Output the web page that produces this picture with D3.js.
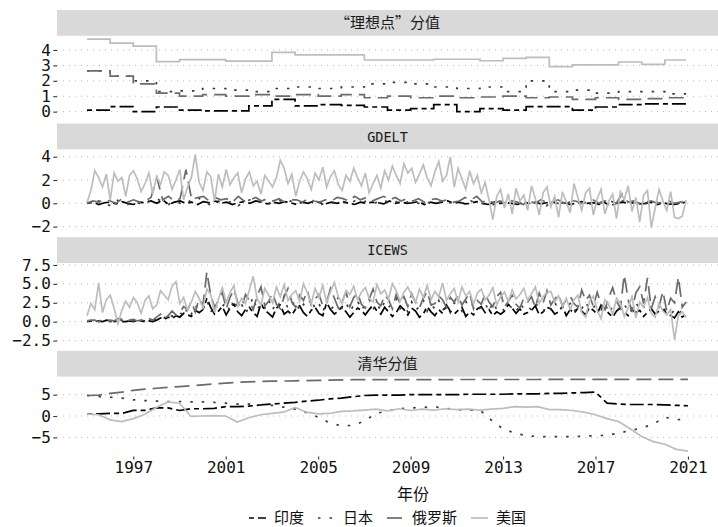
<!DOCTYPE html>
<html>
<head>
<meta charset="utf-8">
<script src="https://cdn.jsdelivr.net/npm/d3@7"></script>
<style>
    body { margin: 0; background: #ffffff; }
    svg { display: block; }
</style>
</head>
<body>
<svg id="chart" width="718" height="527"></svg>
<script>
"use strict";

var Countries = ["印度", "日本", "俄罗斯", "美国"];
var PanelTitles = ["“理想点”分值", "GDELT", "ICEWS", "清华分值"];
var XTicks = [1997, 2001, 2005, 2009, 2013, 2017, 2021];
var YTicks = [[0, 1, 2, 3, 4], [-2, 0, 2, 4], [-2.5, 0, 2.5, 5, 7.5], [-5, 0, 5]];
var XTitle = "年份";

// "理想点" scores, one value per year 1995..2020
var idealIndia = [0.1, 0.33, 0.0, 0.3, 0.1, 0.05, 0.05, 0.37, 0.8, 0.37, 0.45, 0.4, 0.3, 0.1, 0.2, 0.45, 0.0, 0.2, 0.1, 0.33, 0.33, 0.1, 0.3, 0.45, 0.5, 0.5];
var idealJapan = [2.65, 2.3, 2.0, 1.3, 1.35, 1.5, 1.4, 1.3, 1.5, 1.6, 1.5, 1.6, 1.8, 1.9, 1.8, 1.6, 1.5, 1.6, 1.3, 2.0, 1.3, 1.4, 1.2, 1.3, 1.3, 1.15];
var idealRussia = [2.65, 2.3, 1.8, 1.2, 1.0, 1.1, 1.0, 1.1, 1.0, 1.1, 1.0, 1.1, 0.9, 1.0, 0.9, 1.0, 0.9, 0.95, 1.0, 0.9, 0.95, 0.8, 0.9, 0.8, 0.85, 0.9];
var idealUSA = [4.7, 4.45, 4.25, 3.25, 3.38, 3.38, 3.28, 3.28, 3.85, 3.68, 3.68, 3.68, 3.35, 3.35, 3.35, 3.4, 3.4, 3.3, 3.45, 3.52, 2.92, 3.03, 3.03, 3.22, 3.07, 3.35];

// GDELT, quarterly for India / Japan / Russia, every two months for the US
var gdeltIndia = [
    0.0, 0.1, -0.1, 0.05, 0.1, -0.05, 0.15, 0.0, -0.1, 0.1, 0.05, 0.2, 0.0, 0.3, -0.1, 0.1,
    0.2, 0.0, 0.1, -0.1, 0.15, 0.05, 0.2, 0.0, 0.1, -0.1, 0.05, 0.15, 0.0, 0.2, 0.1, -0.05,
    0.1, 0.0, 0.15, 0.05, -0.1, 0.1, 0.0, 0.2, 0.05, -0.05, 0.1, 0.0, 0.15, 0.0, -0.1, 0.1,
    0.0, 0.1, 0.05, -0.05, 0.2, 0.0, 0.1, 0.0, 0.05, 0.15, -0.1, 0.1, 0.0, 0.1, 0.2, 0.0,
    0.1, -0.05, 0.0, 0.15, 0.0, -0.1, 0.1, 0.0, 0.05, 0.0, -0.1, 0.1, 0.0, 0.1, -0.05, 0.05,
    0.1, 0.0, 0.05, -0.1, 0.0, 0.15, 0.0, 0.05, -0.1, 0.05, -0.2, 0.0, 0.1, 0.0, 0.05, -0.05,
    0.0, 0.1, -0.1, 0.05, -0.05, -0.1, 0.0, 0.1
];
var gdeltJapan = [
    0.1, -0.1, 0.2, 0.0, -0.2, 0.3, 0.1, -0.1, 0.2, 0.0, 0.3, 0.1, 0.4, 0.1, -0.1, 0.2,
    0.0, 0.3, 0.1, 0.5, 0.2, -0.1, 0.3, 0.1, 0.0, 0.2, -0.2, 0.1, 0.3, 0.0, 0.2, -0.1,
    0.1, 0.3, 0.0, 0.2, -0.1, 0.1, 0.2, 0.0, -0.2, 0.1, 0.0, 0.2, 0.1, -0.1, 0.2, 0.0,
    0.2, 0.0, 0.1, 0.3, 0.0, 0.2, -0.1, 0.1, 0.1, 0.0, 0.2, 0.0, -0.1, 0.2, 0.0, 0.1,
    0.1, -0.1, 0.2, 0.0, 0.0, -0.2, -0.1, 0.1, -0.2, 0.0, -0.1, 0.1, 0.0, -0.1, 0.1, -0.2,
    0.1, 0.0, -0.1, 0.1, -0.1, 0.1, 0.0, -0.1, 0.1, 0.0, 0.2, 0.0, 0.2, 0.1, 0.0, 0.1,
    0.0, -0.1, 0.1, 0.0, -0.1, 0.1, 0.0, 0.2
];
var gdeltRussia = [
    0.0, 0.2, 0.1, 0.3, 0.2, 0.0, 0.4, 0.1, 0.3, 0.1, 0.2, 0.5, 2.2, 0.3, 0.6, 0.2,
    0.4, 2.9, 0.3, 0.5, 0.6, 0.2, 0.5, 0.3, 0.4, 0.1, 0.6, 0.2, 0.3, 0.5, 0.2, 0.4,
    0.2, 0.4, 0.1, 0.3, 0.3, 0.1, 0.4, 0.2, 0.1, 0.3, 0.2, 0.5, 0.4, 0.2, 0.6, 0.3,
    0.5, 0.2, 0.4, 0.6, 0.3, 0.5, 0.2, 0.4, 0.2, 0.4, 0.1, 0.3, 0.4, 0.2, 0.3, 0.1,
    0.2, 0.5, 0.3, 0.6, 0.1, 0.3, 0.0, 0.2, 0.0, 0.2, 0.1, -0.1, 0.2, 0.0, 0.3, 0.1,
    0.1, 0.3, 0.0, 0.2, 0.2, 0.0, 0.1, 0.3, 0.0, 0.2, 0.1, 0.0, 0.8, 0.1, 0.2, 0.0,
    0.1, 0.2, 0.0, 0.1, 0.2, 0.0, 0.1, 0.2
];
var gdeltUSA = [
    0.1, 1.1, 2.8, 2.2, 1.4, 2.5, 0.3, 2.6, 1.9, 2.2, 0.6, 2.4,
    2.8, 2.1, 1.0, 1.7, 2.6, 0.8, 2.3, 1.6, 2.7, 2.4, 1.2, 2.0,
    2.9, 0.3, 1.4, 2.2, 4.2, 1.8, 1.1, 2.7, 2.3, 0.2, 2.5, 1.4,
    2.9, 1.6, 2.2, 2.6, 0.9, 2.1, 2.7, 1.5, 1.9, 0.8, 2.4, 1.9,
    1.4, 2.2, 3.7, 3.0, 1.7, 2.5, 0.6, 1.9, 2.7, 2.1, 1.2, 2.6,
    2.0, 3.1, 1.4, 2.3, 2.8, 1.6, 1.1, 2.4, 1.9, 3.0, 2.2, 1.5,
    2.6, 0.9, 1.7, 2.4, 1.3, 2.8, 2.0, 3.2, 2.4, 1.7, 3.4, 2.6,
    3.0, 1.8, 2.5, 3.3, 2.2, 1.5, 2.7, 3.6, 1.9, 2.4, 4.0, 1.4,
    3.0, 2.1, 1.2, 2.8, 1.7, 2.4, 0.9, 1.8, 0.3, -1.4, 0.6, 1.2,
    -0.4, 0.8, -0.9, 1.3, 0.2, 0.7, -0.6, 1.5, 0.4, -1.0, 0.9, 1.4,
    -0.3, 0.6, -1.2, 1.0, 0.1, -0.8, 1.7, 0.5, -0.6, 0.9, 1.3, -1.0,
    0.4, 1.2, -0.9, 0.2, 0.8, -1.3, 1.0, 0.3, 1.5, -0.7, 0.5, -1.6,
    0.7, 1.1, -2.1, -0.4, 1.2, 0.2, -0.6, 1.0, -1.2, -1.3, -1.1, 0.3
];

// ICEWS, every two months
var icewsIndia = [
    0.0, 0.1, 0.0, 0.1, 0.0, 0.2, 0.1, 0.0, 0.1, 0.0, 0.0, 0.1,
    0.0, 0.2, 0.1, 0.0, 0.1, 0.0, 0.2, 0.5, 0.3, 0.6, 0.4, 0.8,
    0.6, 1.1, 0.9, 0.7, 1.5, 1.2, 1.6, 3.1, 1.9, 1.0, 1.4, 2.0,
    0.9, 1.8, 2.3, 1.3, 0.8, 1.6, 1.9, 1.2, 0.7, 2.4, 1.5, 1.1,
    0.6, 1.8, 2.2, 1.0, 1.4, 0.9, 1.7, 2.1, 1.2, 0.7, 1.5, 1.9,
    1.1, 0.8, 2.5, 1.6, 1.0, 1.4, 2.0, 1.3, 0.6, 1.2, 1.8, 1.5,
    0.9, 1.6, 2.2, 1.4, 1.0, 1.9, 1.3, 0.7, 1.2, 2.1, 1.6, 0.9,
    1.8, 1.4, 0.6, 1.0, 2.0, 1.3, 0.8, 1.6, 1.1, 2.2, 1.4, 1.0,
    1.5, 1.9, 0.7, 1.3, 0.9, 1.7, 2.0, 1.2, 1.6, 0.8, 1.3, 1.0,
    1.4, 2.3, 1.8, 1.1, 1.7, 1.0, 1.2, 1.5, 2.1, 0.9, 1.3, 1.9,
    1.7, 1.0, 1.3, 2.0, 0.8, 1.6, 1.1, 1.8, 1.4, 0.9, 1.9, 1.5,
    1.0, 2.2, 1.7, 1.1, 0.6, 1.4, 1.9, 1.3, 0.8, 1.6, 1.2, 1.5,
    0.7, 1.2, 1.7, 1.0, 1.4, 1.6, 1.1, 0.8, 0.5, 1.3, 0.6, 1.0
];
var icewsJapan = [
    0.1, 0.0, 0.2, 0.0, 0.1, 0.0, 0.0, 0.1, 0.0, 0.2, 0.1, 0.0,
    0.1, 0.0, 0.2, 0.1, 0.3, 0.2, 0.4, 0.8, 0.5, 1.2, 0.7, 1.0,
    1.3, 0.6, 1.9, 1.0, 2.2, 1.4, 1.8, 2.9, 1.2, 2.4, 1.5, 2.0,
    2.6, 1.3, 3.0, 1.7, 2.3, 1.1, 2.0, 3.3, 1.4, 2.5, 1.8, 2.9,
    1.5, 2.7, 2.1, 3.4, 1.6, 2.2, 2.8, 1.4, 2.3, 1.9, 3.1, 1.7,
    2.4, 1.2, 2.9, 1.6, 2.1, 3.2, 1.8, 2.6, 1.3, 2.2, 2.8, 1.5,
    2.3, 3.0, 1.6, 2.5, 1.4, 2.7, 1.9, 2.4, 3.1, 1.7, 2.2, 1.3,
    2.6, 1.5, 2.0, 2.9, 1.4, 2.3, 1.7, 2.8, 1.5, 2.1, 1.2, 2.5,
    2.2, 1.4, 2.7, 1.8, 2.4, 1.6, 1.9, 2.5, 1.3, 2.6, 1.6, 2.0,
    1.4, 2.2, 1.8, 1.2, 2.5, 1.7, 2.1, 1.5, 2.4, 1.9, 1.3, 2.2,
    1.6, 2.6, 1.4, 2.0, 1.8, 2.4, 1.3, 2.1, 1.7, 2.7, 1.5, 1.9,
    2.3, 1.6, 2.5, 1.1, 2.0, 1.4, 1.8, 2.4, 1.2, 1.9, 2.6, 1.5,
    2.0, 1.3, 2.2, 1.6, 1.1, 1.8, 1.4, 0.9, 1.6, 1.0, 1.5, 1.2
];
var icewsRussia = [
    0.1, 0.2, 0.2, 0.0, 0.3, 0.1, 0.2, 0.1, 0.4, 0.3, 0.0, 0.2,
    0.3, 0.1, 0.2, 0.5, 0.4, 0.2, 0.6, 1.0, 0.4, 0.8, 1.4, 0.9,
    1.2, 2.0, 1.6, 2.6, 1.3, 3.0, 2.2, 6.6, 3.5, 1.9, 2.8, 3.9,
    1.7, 3.2, 4.3, 2.5, 1.9, 3.6, 2.8, 1.6, 3.4, 4.6, 2.1, 2.7,
    3.8, 2.3, 1.7, 3.3, 4.4, 2.6, 1.9, 3.5, 2.8, 4.1, 2.2, 3.0,
    3.6, 2.1, 2.6, 4.4, 3.1, 1.8, 2.7, 3.9, 2.0, 3.2, 3.8, 2.3,
    1.8, 3.0, 4.3, 2.6, 2.1, 3.5, 2.9, 1.7, 3.6, 2.4, 3.3, 2.0,
    3.7, 2.5, 1.8, 3.1, 4.0, 2.2, 2.4, 3.4, 2.9, 1.9, 3.2, 2.6,
    3.5, 2.2, 3.0, 3.8, 1.7, 2.8, 2.3, 3.7, 2.6, 2.0, 3.3, 3.9,
    1.9, 2.7, 3.5, 2.3, 1.8, 3.1, 2.6, 3.3, 1.9, 3.8, 2.5, 4.1,
    2.2, 3.0, 3.6, 2.1, 2.9, 3.4, 2.4, 1.9, 4.2, 2.8, 3.5, 2.0,
    3.9, 2.3, 1.6, 3.2, 4.5, 2.7, 1.8, 6.2, 2.9, 1.5, 3.8, 4.6,
    2.4, 5.8, 1.7, 3.3, 2.0, 4.0, 1.4, 3.1, 2.5, 5.9, 1.9, 2.6
];
var icewsUSA = [
    0.8, 2.4, 1.6, 5.1, 1.2, 2.9, 3.5, 1.8, -0.3, 1.5, 2.7, 1.9,
    3.2, 2.5, 1.1, 2.8, 3.4, 1.7, 2.2, 4.1, 3.5, 2.9, 4.7, 5.3,
    2.4, 3.2, 1.5, 2.6, 4.0, 3.1, 1.8, 4.3, 3.6, 1.2, 3.0, 4.5,
    2.6, 3.8, 4.8, 2.0, 3.1, 2.4, 4.2, 6.0, 3.0, 2.2, 4.4, 3.5,
    2.5, 4.6, 3.3, 4.9, 2.8, 3.6, 4.1, 2.7, 5.0, 3.8, 2.3, 4.4,
    3.2, 4.8, 2.5, 4.0, 5.2, 3.3, 2.4, 4.1, 3.6, 4.7, 2.9, 3.9,
    4.5, 3.1, 2.6, 4.9, 3.7, 4.2, 3.0, 5.0, 4.1, 2.7, 3.9, 4.6,
    3.5, 2.5, 4.3, 3.2, 4.8, 2.9, 4.0, 3.3, 5.1, 2.8, 3.7, 4.4,
    2.6, 4.6, 3.4, 4.0, 2.3, 3.8, 4.3, 2.9, 3.5, 4.5, 2.2, 3.3,
    3.9, 2.7, 4.2, 3.0, 3.6, 4.4, 2.8, 3.7, 4.6, 2.4, 3.3, 3.9,
    4.0, 2.6, 3.4, 2.0, 3.1, 1.6, 2.9, 3.5, 1.2, 0.6, 2.7, 3.4,
    1.5, 0.4, 2.9, 2.2, 1.0, 3.1, 2.4, 0.7, 1.8, 3.3, 0.5, 2.6,
    1.9, 3.2, 1.1, 0.6, 2.4, 1.4, 0.9, 1.6, -2.4, 0.8, 1.3, 0.5
];

// Tsinghua scores, every half year 1995.0..2021.0
var tsinghuaIndia = [0.5, 0.5, 0.6, 0.6, 1.3, 1.3, 1.9, 1.9, 1.3, 1.7, 1.7, 1.8, 2.2, 2.2, 2.3, 2.6, 2.8, 3.0, 3.2, 3.5, 3.7, 4.0, 4.2, 4.5, 4.8, 4.9, 4.9, 4.9, 5.0, 5.0, 5.0, 5.0, 5.0, 5.1, 5.1, 5.1, 5.1, 5.2, 5.2, 5.2, 5.3, 5.3, 5.4, 5.5, 5.6, 3.0, 2.8, 2.7, 2.7, 2.7, 2.6, 2.5, 2.4];
var tsinghuaJapan = [4.8, 4.6, 4.4, 4.2, 3.8, 3.6, 3.5, 3.4, 3.4, 3.3, 3.3, 3.2, 3.0, 2.8, 2.8, 2.6, 2.5, 2.1, 1.6, 0.8, -0.3, -1.6, -2.3, -2.2, -1.2, 0.6, 1.2, 1.7, 1.9, 2.0, 2.2, 1.8, 1.5, 1.4, 1.4, -1.0, -3.0, -4.0, -4.6, -4.8, -4.8, -4.8, -4.8, -4.7, -4.6, -4.5, -4.0, -3.4, -2.8, -1.9, -0.3, -0.8, -0.9];
var tsinghuaRussia = [4.8, 4.9, 5.3, 5.6, 6.0, 6.3, 6.5, 6.7, 6.9, 7.1, 7.3, 7.5, 7.7, 7.9, 8.0, 8.1, 8.15, 8.2, 8.25, 8.3, 8.35, 8.4, 8.45, 8.5, 8.5, 8.5, 8.5, 8.5, 8.5, 8.5, 8.5, 8.5, 8.55, 8.55, 8.55, 8.55, 8.55, 8.55, 8.55, 8.55, 8.6, 8.6, 8.6, 8.6, 8.6, 8.6, 8.6, 8.6, 8.6, 8.6, 8.6, 8.6, 8.6];
var tsinghuaUSA = [0.5, 0.3, -0.9, -1.3, -0.6, 0.4, 2.0, 3.3, 3.0, -0.1, 0.0, 0.1, 0.0, -1.4, -0.4, 0.3, 0.6, 0.9, 2.0, 0.9, 0.5, 0.6, 1.1, 1.2, 1.4, 1.6, 1.2, 1.7, 1.3, 1.6, 1.4, 1.7, 1.5, 1.6, 1.4, 1.6, 1.8, 2.2, 2.1, 2.2, 1.5, 1.5, 1.3, 0.9, 0.3, -0.6, -1.3, -3.0, -4.8, -6.0, -6.6, -7.8, -8.2];

var LineColors = ["#000000", "#3a3a3a", "#6b6b6b", "#bdbdbd"];
var LineDashes = ["5,4,14,4", "2.5,9", "15,7", null];

var PlotLeft = 57,
    PlotRight = 718,
    PlotTop = 10,
    StripHeight = 25.8,
    PanelHeight = 80,
    PanelGap = 7.8;

var YDomains = [[-0.27, 4.92], [-2.24, 4.63], [-2.82, 7.76], [-9.5, 9.23]];
var YFormats = [d3.format("d"), d3.format("d"), d3.format(".1f"), d3.format("d")];

var AxisFont = "'DejaVu Sans Mono', monospace";
var CjkFont = "'Noto Sans CJK SC', sans-serif";

// each panel: series list with [values, first time, last time, stepped?]
var Panels = [
    [[idealIndia, 1995, 2020.92, true], [idealJapan, 1995, 2020.92, true], [idealRussia, 1995, 2020.92, true], [idealUSA, 1995, 2020.92, true]],
    [[gdeltIndia, 1995, 2020.92], [gdeltJapan, 1995, 2020.92], [gdeltRussia, 1995, 2020.92], [gdeltUSA, 1995, 2020.92]],
    [[icewsIndia, 1995, 2020.92], [icewsJapan, 1995, 2020.92], [icewsRussia, 1995, 2020.92], [icewsUSA, 1995, 2020.92]],
    [[tsinghuaIndia, 1995, 2021], [tsinghuaJapan, 1995, 2021], [tsinghuaRussia, 1995, 2021], [tsinghuaUSA, 1995, 2021]]
];

var svg = d3.select("#chart");
var x = d3.scaleLinear().domain([1993.7, 2022.3]).range([PlotLeft, PlotRight]);

function toPoints(spec) {
    var values = spec[0], t0 = spec[1], t1 = spec[2];
    var n = values.length;
    var step = spec[3] ? 1 : (t1 - t0) / (n - 1);
    var pts = values.map(function (v, i) {
        return [t0 + i * step, v];
    });
    if (spec[3]) {
        // yearly values held until the last month
        pts.push([t1, values[n - 1]]);
    }
    return pts;
}

function drawPanel(specs, i) {
    var top = PlotTop + i * (StripHeight + PanelHeight + PanelGap);
    var panelTop = top + StripHeight;
    var panelBottom = panelTop + PanelHeight;

    svg.append("rect")
        .attr("x", PlotLeft)
        .attr("y", top)
        .attr("width", PlotRight - PlotLeft)
        .attr("height", StripHeight)
        .attr("fill", "#d9d9d9");

    svg.append("text")
        .attr("x", (PlotLeft + PlotRight) / 2)
        .attr("y", top + 18)
        .attr("text-anchor", "middle")
        .style("font-family", i === 1 || i === 2 ? AxisFont : CjkFont)
        .style("font-size", i === 1 || i === 2 ? "13.5px" : "15px")
        .attr("fill", "#1a1a1a")
        .text(PanelTitles[i]);

    var y = d3.scaleLinear().domain(YDomains[i]).range([panelBottom, panelTop]);

    svg.append("g")
        .selectAll("line")
        .data(YTicks[i])
        .enter()
        .append("line")
        .attr("x1", PlotLeft)
        .attr("x2", PlotRight)
        .attr("y1", function (d) { return y(d); })
        .attr("y2", function (d) { return y(d); })
        .attr("stroke", "#b8b8b8")
        .attr("stroke-width", 1)
        .attr("stroke-dasharray", "1,5");

    var yAxis = svg.append("g")
        .attr("transform", "translate(" + PlotLeft + ",0)")
        .call(d3.axisLeft(y).tickValues(YTicks[i]).tickFormat(YFormats[i]).tickSize(3.7).tickPadding(2.5));
    styleAxis(yAxis);

    var line = d3.line()
        .x(function (d) { return x(d[0]); })
        .y(function (d) { return y(d[1]); })
        .curve(specs[0][3] ? d3.curveStepAfter : d3.curveLinear);

    svg.append("g")
        .selectAll("path")
        .data(specs)
        .enter()
        .append("path")
        .attr("d", function (s) { return line(toPoints(s)); })
        .attr("fill", "none")
        .attr("stroke", function (s, k) { return LineColors[k]; })
        .attr("stroke-width", 1.7)
        .attr("stroke-dasharray", function (s, k) { return LineDashes[k]; });

    return panelBottom;
}

function styleAxis(g) {
    g.select(".domain").remove();
    g.selectAll(".tick line").attr("stroke", "#333333").attr("stroke-width", 1.1);
    g.selectAll(".tick text")
        .attr("fill", "#111111")
        .style("font-family", AxisFont)
        .style("font-size", "16px");
}

var bottom = 0;
Panels.forEach(function (specs, i) {
    bottom = drawPanel(specs, i);
});

var xAxis = svg.append("g")
    .attr("transform", "translate(0," + bottom + ")")
    .call(d3.axisBottom(x).tickValues(XTicks).tickFormat(d3.format("d")).tickSize(3).tickPadding(2.5));
styleAxis(xAxis);

svg.append("text")
    .attr("x", 413)
    .attr("y", 500)
    .attr("text-anchor", "middle")
    .style("font-family", CjkFont)
    .style("font-size", "16px")
    .attr("fill", "#111111")
    .text(XTitle);

// legend, laid out left to right and centred under the panels
var legend = svg.append("g").attr("transform", "translate(0,518)");
var KeyWidth = 17, KeyGap = 8, ItemGap = 14;
var items = legend.selectAll("g")
    .data(Countries)
    .enter()
    .append("g");

items.append("line")
    .attr("x1", 0)
    .attr("x2", KeyWidth)
    .attr("stroke", function (d, k) { return LineColors[k]; })
    .attr("stroke-width", 1.7)
    .attr("stroke-dasharray", function (d, k) { return LineDashes[k]; });

items.append("text")
    .attr("x", KeyWidth + KeyGap)
    .attr("y", 5)
    .style("font-family", CjkFont)
    .style("font-size", "15px")
    .attr("fill", "#111111")
    .text(function (d) { return d; });

var widths = [];
items.each(function () {
    widths.push(KeyWidth + KeyGap + d3.select(this).select("text").node().getComputedTextLength());
});
var total = d3.sum(widths) + ItemGap * (widths.length - 1);
var cursor = (PlotLeft + PlotRight) / 2 - total / 2;
items.attr("transform", function (d, k) {
    var pos = cursor;
    cursor += widths[k] + ItemGap;
    return "translate(" + pos + ",0)";
});
</script>
</body>
</html>
